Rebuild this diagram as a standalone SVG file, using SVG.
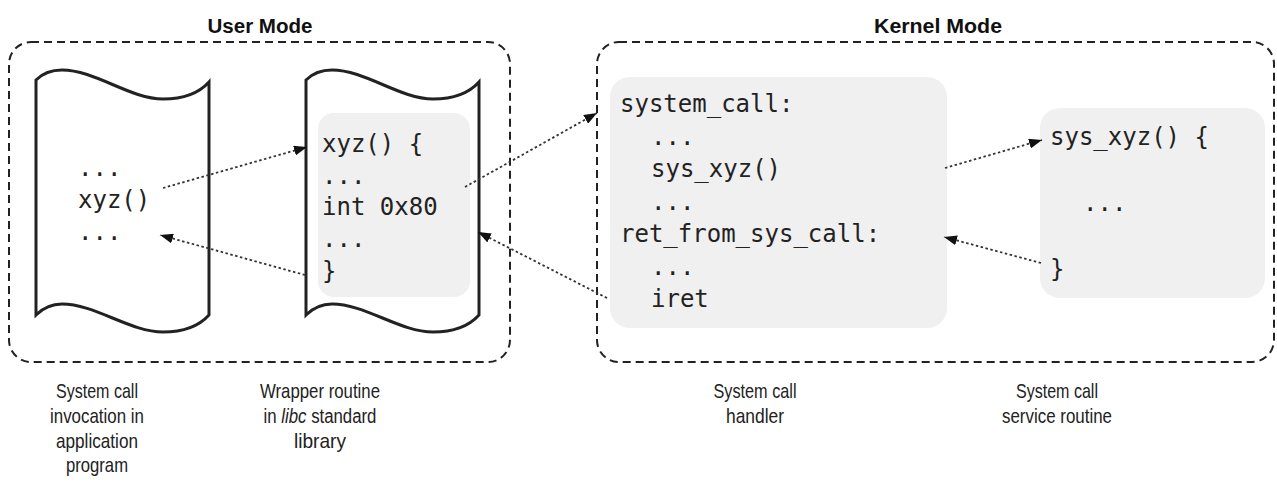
<svg xmlns="http://www.w3.org/2000/svg" width="1277" height="488" viewBox="0 0 1277 488">
<defs>
<style>
.mode{fill:none;stroke:#222;stroke-width:2;stroke-dasharray:8 5}
.doc{fill:#fff;stroke:#222;stroke-width:3;stroke-linejoin:miter}
.code{fill:#f0f0f0;stroke:none}
.mono{font-family:"DejaVu Sans Mono","Liberation Mono",monospace;font-size:24px;fill:#222}
.title{font-family:"Liberation Sans",Arial,sans-serif;font-size:20px;font-weight:bold;fill:#111;text-anchor:middle}
.lbl{font-family:"Liberation Sans",Arial,sans-serif;font-size:21px;fill:#222;text-anchor:middle}
.conn{fill:none;stroke:#333;stroke-width:1.8;stroke-dasharray:2.5 2.5}
</style>
<marker id="ah" markerUnits="userSpaceOnUse" markerWidth="14" markerHeight="10" refX="13" refY="5" orient="auto">
<path d="M0,0 L13,5 L0,10 z" fill="#111"/>
</marker>
</defs>

<g id="user-mode">
<rect class="mode" x="9" y="42" width="501" height="320" rx="22"/>
<text class="title" x="260" y="33" textLength="105" lengthAdjust="spacingAndGlyphs">User Mode</text>
</g>
<g id="kernel-mode">
<rect class="mode" x="597" y="42" width="677" height="320" rx="22"/>
<text class="title" x="938" y="33" textLength="128" lengthAdjust="spacingAndGlyphs">Kernel Mode</text>
</g>

<g id="app-program">
<path class="doc" d="M36,80 C44,72 52,70 62,70 C95,70 130,99 163,99 C185,99 200,92 209,82 L209,315 C200,325 185,332 163,332 C130,332 95,304 62,304 C52,304 44,307 36,315 Z"/>
<text class="mono" x="78" y="176">...</text>
<text class="mono" x="78" y="208">xyz()</text>
<text class="mono" x="78" y="240">...</text>
<text class="lbl" x="97" y="398" textLength="82" lengthAdjust="spacingAndGlyphs">System call</text>
<text class="lbl" x="97" y="423" textLength="94" lengthAdjust="spacingAndGlyphs">invocation in</text>
<text class="lbl" x="97" y="448" textLength="82" lengthAdjust="spacingAndGlyphs">application</text>
<text class="lbl" x="97" y="472" textLength="62" lengthAdjust="spacingAndGlyphs">program</text>
</g>

<g id="wrapper">
<path class="doc" d="M306,80 C314,72 322,70 332,70 C365,70 400,99 433,99 C455,99 470,92 479,82 L479,315 C470,325 455,332 433,332 C400,332 365,304 332,304 C322,304 314,307 306,315 Z"/>
<rect class="code" x="318" y="113" width="152" height="184" rx="16"/>
<text class="mono" x="322" y="152">xyz() {</text>
<text class="mono" x="322" y="184">...</text>
<text class="mono" x="322" y="215">int 0x80</text>
<text class="mono" x="322" y="247">...</text>
<text class="mono" x="322" y="279">}</text>
<text class="lbl" x="320" y="398" textLength="120" lengthAdjust="spacingAndGlyphs">Wrapper routine</text>
<text class="lbl" transform="translate(320,423) scale(0.8,1)" x="0" y="0">in <tspan font-style="italic">libc</tspan> standard</text>
<text class="lbl" x="320" y="448" textLength="52" lengthAdjust="spacingAndGlyphs">library</text>
</g>

<g id="handler">
<rect class="code" x="610" y="77" width="337" height="251" rx="20"/>
<text class="mono" x="620" y="112">system_call:</text>
<text class="mono" x="651" y="145">...</text>
<text class="mono" x="651" y="177">sys_xyz()</text>
<text class="mono" x="651" y="210">...</text>
<text class="mono" x="620" y="242">ret_from_sys_call:</text>
<text class="mono" x="651" y="275">...</text>
<text class="mono" x="651" y="307">iret</text>
<text class="lbl" x="755" y="398" textLength="83" lengthAdjust="spacingAndGlyphs">System call</text>
<text class="lbl" x="755" y="423" textLength="58" lengthAdjust="spacingAndGlyphs">handler</text>
</g>

<g id="service">
<rect class="code" x="1040" y="108" width="225" height="190" rx="20"/>
<text class="mono" x="1050" y="145">sys_xyz() {</text>
<text class="mono" x="1083" y="211">...</text>
<text class="mono" x="1050" y="277">}</text>
<text class="lbl" x="1057" y="398" textLength="82" lengthAdjust="spacingAndGlyphs">System call</text>
<text class="lbl" x="1057" y="423" textLength="110" lengthAdjust="spacingAndGlyphs">service routine</text>
</g>

<g id="connectors">
<line class="conn" x1="163" y1="188" x2="307" y2="147" marker-end="url(#ah)"/>
<line class="conn" x1="305" y1="275" x2="160" y2="235" marker-end="url(#ah)"/>
<line class="conn" x1="465" y1="187" x2="597" y2="113" marker-end="url(#ah)"/>
<line class="conn" x1="607" y1="298" x2="478" y2="232" marker-end="url(#ah)"/>
<line class="conn" x1="945" y1="168" x2="1042" y2="140" marker-end="url(#ah)"/>
<line class="conn" x1="1041" y1="263" x2="944" y2="237" marker-end="url(#ah)"/>
</g>
</svg>
